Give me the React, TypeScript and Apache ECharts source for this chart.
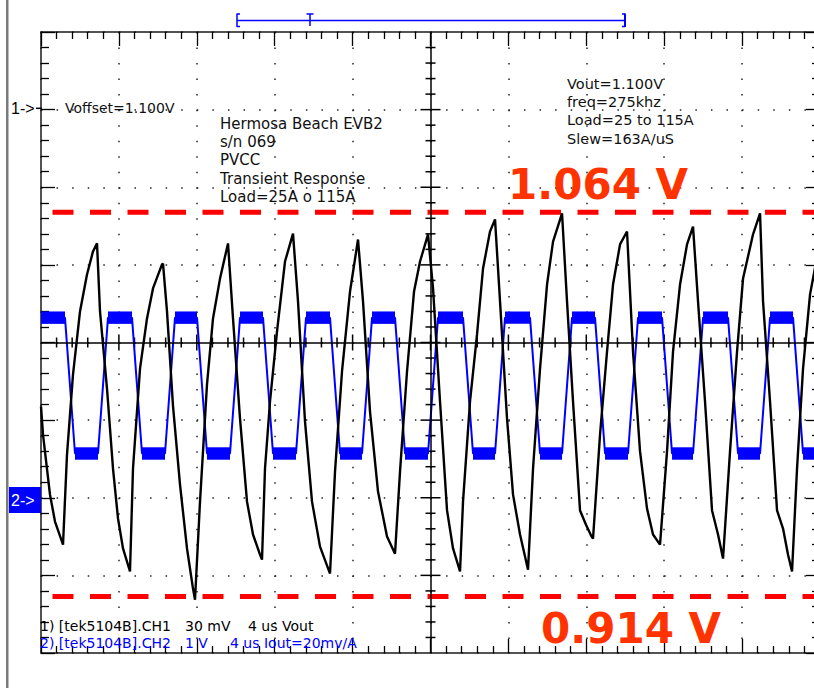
import React, { useEffect, useRef } from "react";
import * as echarts from "echarts";

// CH1 (Vout) trace: time in µs, voltage in V (30 mV/div, offset 1.100 V)
const TIME_US = [
  0.0, 0.103, 0.462, 0.719, 1.13, 1.335, 1.643, 2.003, 2.362, 2.67, 2.876, 3.03, 3.389, 3.697, 3.954, 4.211, 4.57,
  4.724, 5.084, 5.443, 5.751, 6.213, 6.265, 6.47, 6.778, 7.138, 7.497, 7.805, 7.908, 8.165, 8.524, 8.832, 9.192,
  9.603, 9.859, 10.219, 10.578, 10.886, 11.246, 11.348, 11.502, 11.759, 12.119, 12.529, 12.94, 13.197, 13.556,
  13.916, 14.327, 14.84, 15.097, 15.456, 15.867, 16.278, 16.535, 16.894, 17.305, 17.767, 18.178, 18.435, 18.794,
  19.154, 19.462, 19.873, 20.13, 20.489, 20.849, 21.157, 21.516, 21.67, 22.029, 22.389, 22.697, 23.056, 23.313,
  23.57, 23.93, 24.238, 24.597, 25.008, 25.265, 25.624, 25.984, 26.292, 26.754, 27.01, 27.318, 27.678, 27.99,
  28.24, 28.345, 28.705, 29.064, 29.372, 29.732, 30.091, 30.399, 30.759, 31.118, 31.426, 31.786, 32.145, 32.453,
  32.813, 33.172, 33.48, 33.737, 34.096, 34.456, 34.764, 35.021, 35.38, 35.74, 36.048, 36.562, 36.921, 37.075,
  37.434, 37.794, 38.102, 38.359, 38.564, 38.821, 39.129, 39.489, 39.9,
];
const VOUT_V = [
  0.9853, 0.9744, 0.9512, 0.9408, 0.9319, 0.9667, 0.9976, 1.022, 1.0363, 1.0452, 1.0483, 1.022, 0.9922, 0.9613,
  0.942, 0.9304, 0.9215, 0.9613, 0.9999, 1.0193, 1.0309, 1.0402, 1.0405, 1.022, 0.9855, 0.9551, 0.9304, 0.9149,
  0.9106, 0.9485, 0.9938, 1.0193, 1.0347, 1.0483, 1.0193, 0.9806, 0.9485, 0.9358, 0.928, 0.9261, 0.9613, 0.9872,
  1.0143, 1.0413, 1.0521, 1.0259, 0.9795, 0.9485, 0.9311, 0.9207, 0.9601, 0.9988, 1.0297, 1.0498, 1.0259, 0.9833,
  0.9524, 0.935, 0.9284, 0.9601, 0.9988, 1.0297, 1.0413, 1.0518, 1.0309, 0.9872, 0.9451, 0.9304, 0.9215, 0.9485,
  0.9872, 1.0131, 1.0386, 1.0529, 1.0576, 1.0259, 0.9806, 0.9512, 0.9358, 0.9222, 0.9613, 0.9999, 1.0324, 1.049,
  1.0599, 1.0259, 0.9872, 0.9451, 0.9395, 0.9355, 0.9342, 0.9744, 1.0065, 1.0324, 1.0479, 1.0529, 1.0065, 0.9679,
  0.9458, 0.9358, 0.9319, 0.9679, 1.0065, 1.0324, 1.0479, 1.0548, 1.0259, 0.9872, 0.9451, 0.9358, 0.9265, 0.9679,
  1.0065, 1.0347, 1.0518, 1.0599, 1.0259, 0.9872, 0.9451, 0.9381, 0.928, 0.9215, 0.9613, 0.9999, 1.0286, 1.0452,
];

// CH2 (Iout) trace: corner times in µs, current in A (1 V/div, 20 mV/A)
const IOUT_TIME_US = [
  0, 1.232, 1.746, 2.927, 3.44, 4.673, 5.186, 6.367, 6.881, 8.011, 8.524, 9.705, 10.219, 11.4, 11.913, 13.094,
  13.608, 14.84, 15.354, 16.483, 16.997, 18.178, 18.692, 19.873, 20.386, 21.67, 22.183, 23.313, 23.826, 25.11,
  25.624, 26.754, 27.267, 28.448, 28.962, 30.143, 30.656, 31.889, 32.402, 33.48, 33.994, 35.278, 35.791, 36.921,
  37.434, 38.616, 39.129, 40,
];
const IOUT_A = [
  116, 116, 28.5, 28.5, 116, 116, 28.5, 28.5, 116, 116, 28.5, 28.5, 116, 116, 28.5, 28.5, 116, 116, 28.5, 28.5,
  116, 116, 28.5, 28.5, 116, 116, 28.5, 28.5, 116, 116, 28.5, 28.5, 116, 116, 28.5, 28.5, 116, 116, 28.5, 28.5,
  116, 116, 28.5, 28.5, 116, 116, 28.5, 28.5,
];

// annotation levels (V) and their labels
const MARKER_LEVELS_V = [1.0603, 0.9118];
const MARKER_LABELS = ["1.064 V", "0.914 V"];

const INFO_LEFT = ["Hermosa Beach EVB2", "s/n 069", "PVCC", "Transient Response", "Load=25A o 115A"];
const INFO_RIGHT = ["Vout=1.100V", "freq=275khz", "Load=25 to 115A", "Slew=163A/uS"];
const CH1_NOTE = ["1) [tek5104B].CH1", "30 mV", "4 us Vout"];
const CH2_NOTE = ["2) [tek5104B].CH2", "1 V", "4 us Iout=20mv/A"];

const BLUE = "#0000ff";
const RED = "#ff0000";
const LABEL_RED = "#ff3300";
const AXIS = "#1a1a1a";
const SANS = '"DejaVu Sans", Verdana, sans-serif';

export default function App() {
  const ref = useRef<HTMLDivElement>(null);

  useEffect(() => {
    if (!ref.current) return;
    document.documentElement.style.overflow = "hidden";
    document.body.style.overflow = "hidden";
    const chart = echarts.init(ref.current, null, { renderer: "svg" });

    const vout = TIME_US.map((t, i) => [t, VOUT_V[i]]);
    const iout = IOUT_TIME_US.map((t, i) => [t, IOUT_A[i]]);
    const bands: number[][] = [];
    for (let i = 0; i < IOUT_A.length - 1; i++) {
      if (IOUT_A[i] === IOUT_A[i + 1]) bands.push([IOUT_TIME_US[i], IOUT_TIME_US[i + 1], IOUT_A[i]]);
    }

    const tickStyle = { color: "#000", width: 1.3 };

    // short tick marks along the centre cross (the cross lines themselves are markLines)
    const centreTicks = (_p: any, api: any) => {
      const c = (x: number, y: number) => api.coord([x, y]);
      const st = { stroke: "#000", lineWidth: 1.5 };
      const cx = c(20, 0)[0];
      const cy = c(20, 0)[1];
      const children: any[] = [];
      for (let k = 1; k < 40; k++) {
        const y = c(20, -4 + k * 0.2)[1];
        const len = k % 5 === 0 ? 10 : 5;
        children.push({ type: "line", shape: { x1: cx - len, y1: y, x2: cx + len, y2: y }, style: st });
      }
      for (let k = 1; k < 50; k++) {
        const x = c(k * 0.8, 0)[0];
        const len = k % 5 === 0 ? 8 : 5;
        children.push({ type: "line", shape: { x1: x, y1: cy - len, x2: x, y2: cy + len }, style: st });
      }
      return { type: "group", children };
    };

    const baseX = {
      type: "value",
      min: 0,
      max: 40,
      interval: 4,
      axisLabel: { show: false },
      axisLine: { show: true, onZero: false, lineStyle: { color: AXIS, width: 1.5 } },
      axisTick: { show: true, inside: true, length: 14, lineStyle: tickStyle },
      minorTick: { show: true, splitNumber: 5, length: 7, lineStyle: tickStyle },
      minorSplitLine: { show: false },
    };
    const hiddenY = { type: "value", show: false, position: "left" };
    const divY = {
      type: "value",
      min: -4,
      max: 4,
      interval: 1,
      axisLabel: { show: false },
      axisLine: { show: true, onZero: false, lineStyle: { color: AXIS, width: 1.5 } },
      axisTick: { show: true, inside: true, length: 14, lineStyle: tickStyle },
      minorTick: { show: true, splitNumber: 5, length: 8, lineStyle: tickStyle },
      minorSplitLine: { show: false },
    };

    const texts: any[] = [];
    INFO_LEFT.forEach((s, i) =>
      texts.push({
        type: "text",
        x: 220,
        y: 123.5 + i * 18.4,
        style: { text: s, fill: "#111", font: `15px ${SANS}`, textAlign: "left", textVerticalAlign: "middle" },
      })
    );
    INFO_RIGHT.forEach((s, i) =>
      texts.push({
        type: "text",
        x: 567,
        y: 83.5 + i * 18.4,
        style: { text: s, fill: "#111", font: `14.5px ${SANS}`, textAlign: "left", textVerticalAlign: "middle" },
      })
    );
    const ch1X = [40, 185, 248];
    const ch2X = [40, 185, 230];
    CH1_NOTE.forEach((s, i) =>
      texts.push({
        type: "text",
        x: ch1X[i],
        y: 626,
        style: { text: s, fill: "#000", font: `14px ${SANS}`, textAlign: "left", textVerticalAlign: "middle" },
      })
    );
    CH2_NOTE.forEach((s, i) =>
      texts.push({
        type: "text",
        x: ch2X[i],
        y: 643,
        style: { text: s, fill: BLUE, font: `14px ${SANS}`, textAlign: "left", textVerticalAlign: "middle" },
      })
    );
    const labelPos = [
      [508, 184],
      [541, 628],
    ];
    MARKER_LABELS.forEach((s, i) =>
      texts.push({
        type: "text",
        x: labelPos[i][0],
        y: labelPos[i][1],
        style: {
          text: s,
          fill: LABEL_RED,
          font: `bold 42px ${SANS}`,
          textAlign: "left",
          textVerticalAlign: "middle",
        },
      })
    );

    const bl = { stroke: BLUE, lineWidth: 1.5 };
    const graphic: any[] = [
      { type: "rect", shape: { x: 6, y: 0, width: 2.5, height: 688 }, style: { fill: "#7a7a7a" }, z: 10 },
      // record / trigger bracket
      { type: "line", shape: { x1: 237, y1: 20.5, x2: 625, y2: 20.5 }, style: bl, z: 10 },
      { type: "line", shape: { x1: 237, y1: 13.5, x2: 237, y2: 27 }, style: bl, z: 10 },
      { type: "line", shape: { x1: 237, y1: 14, x2: 240, y2: 14 }, style: bl, z: 10 },
      { type: "line", shape: { x1: 237, y1: 26.5, x2: 240, y2: 26.5 }, style: bl, z: 10 },
      { type: "line", shape: { x1: 310, y1: 14, x2: 310, y2: 26 }, style: bl, z: 10 },
      { type: "line", shape: { x1: 306.5, y1: 14, x2: 313.5, y2: 14 }, style: bl, z: 10 },
      { type: "line", shape: { x1: 625, y1: 13.5, x2: 625, y2: 27 }, style: { stroke: BLUE, lineWidth: 2 }, z: 10 },
      { type: "line", shape: { x1: 622, y1: 14, x2: 625, y2: 14 }, style: bl, z: 10 },
      { type: "line", shape: { x1: 622, y1: 26.5, x2: 625, y2: 26.5 }, style: bl, z: 10 },
      // channel markers
      {
        type: "text",
        x: 11,
        y: 108,
        style: { text: "1->", fill: "#000", font: '16px "Liberation Sans", Arial, sans-serif', textVerticalAlign: "middle" },
        z: 10,
      },
      { type: "line", shape: { x1: 36, y1: 108.3, x2: 42, y2: 108.3 }, style: { stroke: "#000", lineWidth: 1.5 }, z: 10 },
      { type: "rect", shape: { x: 9, y: 487, width: 32, height: 26 }, style: { fill: BLUE }, z: 10 },
      {
        type: "text",
        x: 11,
        y: 500,
        style: { text: "2->", fill: "#fff", font: '16px "Liberation Sans", Arial, sans-serif', textVerticalAlign: "middle" },
        z: 11,
      },
      {
        type: "text",
        x: 65,
        y: 108,
        style: { text: "Voffset=1.100V", fill: "#111", font: `14px ${SANS}`, textVerticalAlign: "middle" },
        z: 10,
      },
      ...texts.map((t) => ({ ...t, z: 10 })),
    ];

    chart.setOption({
      animation: false,
      backgroundColor: "#fff",
      grid: { left: 41, top: 32, width: 779, height: 621, show: false },
      xAxis: [
        {
          ...baseX,
          position: "bottom",
          splitLine: { show: true, lineStyle: { color: "#222", width: 1.5, type: [1.5, 14.025] } },
        },
        { ...baseX, position: "top", splitLine: { show: false } },
      ],
      yAxis: [
        { ...hiddenY, min: 0.89, max: 1.13 },
        { ...hiddenY, min: -100, max: 300 },
        {
          ...divY,
          position: "left",
          splitLine: { show: true, lineStyle: { color: "#222", width: 1.5, type: [1.5, 14.08] } },
        },
        { ...divY, position: "right", splitLine: { show: false } },
      ],
      series: [
        {
          type: "line",
          name: "centre cross",
          xAxisIndex: 0,
          yAxisIndex: 2,
          data: [[20, 0]],
          symbol: "none",
          showSymbol: false,
          lineStyle: { width: 0 },
          silent: true,
          markLine: {
            silent: true,
            symbol: ["none", "none"],
            label: { show: false },
            lineStyle: { color: "#000", width: 1.5, type: "solid" },
            data: [{ xAxis: 20 }, { yAxis: 0 }],
          },
          z: 1,
        },
        {
          type: "custom",
          name: "centre ticks",
          xAxisIndex: 0,
          yAxisIndex: 2,
          silent: true,
          clip: true,
          data: [[20, 0]],
          renderItem: centreTicks,
          z: 1,
        },
        {
          type: "custom",
          name: "Iout noise",
          xAxisIndex: 0,
          yAxisIndex: 1,
          silent: true,
          clip: true,
          data: bands,
          encode: { x: [0, 1], y: 2 },
          renderItem: (_p: any, api: any) => {
            const p1 = api.coord([api.value(0), api.value(2) + 4]);
            const p2 = api.coord([api.value(1), api.value(2) - 4]);
            return {
              type: "rect",
              shape: { x: p1[0], y: p1[1], width: p2[0] - p1[0], height: p2[1] - p1[1] },
              style: { fill: BLUE },
            };
          },
          z: 2,
        },
        {
          type: "line",
          name: "Iout",
          xAxisIndex: 0,
          yAxisIndex: 1,
          data: iout,
          symbol: "none",
          lineStyle: { color: BLUE, width: 2 },
          z: 3,
        },
        ...MARKER_LEVELS_V.map((v, i) => ({
          type: "line",
          name: MARKER_LABELS[i],
          xAxisIndex: 0,
          yAxisIndex: 0,
          data: [
            [0, v],
            [40, v],
          ],
          symbol: "none",
          lineStyle: { color: RED, width: 5, type: [21, 16.5], dashOffset: 25.5 },
          z: 4,
        })),
        {
          type: "line",
          name: "Vout",
          xAxisIndex: 0,
          yAxisIndex: 0,
          data: vout,
          symbol: "none",
          lineStyle: { color: "#000", width: 2.4 },
          z: 5,
        },
      ],
      graphic,
    });

    return () => chart.dispose();
  }, []);

  return <div ref={ref} style={{ position: "absolute", left: 0, top: 0, width: 840, height: 688 }} />;
}
